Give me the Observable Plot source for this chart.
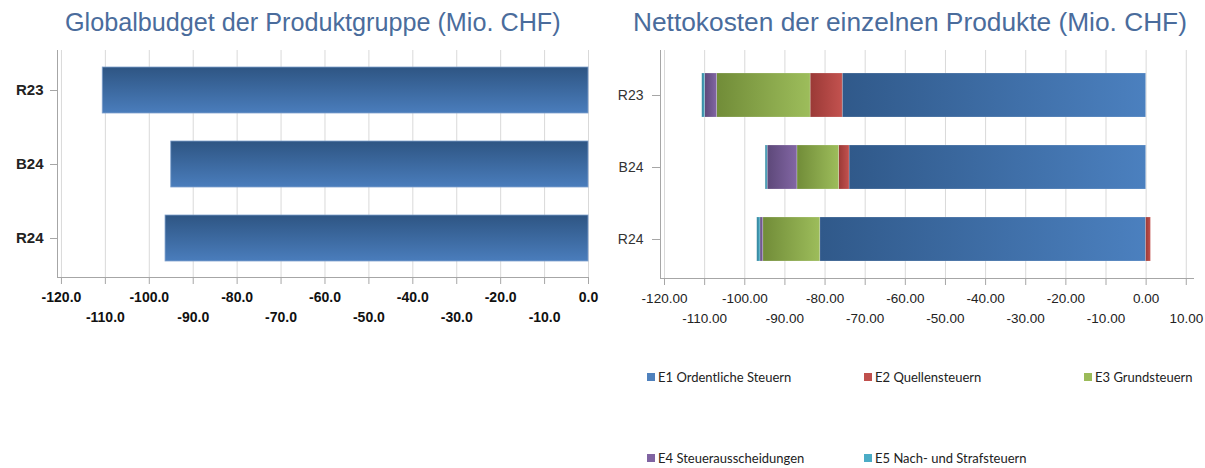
<!DOCTYPE html>
<html>
<head>
<meta charset="utf-8">
<script src="https://cdn.jsdelivr.net/npm/d3@7"></script>
<script src="https://cdn.jsdelivr.net/npm/@observablehq/plot@0.6"></script>
<style>
  body { margin: 0; background: #fff; }
  #wrap { position: relative; width: 1205px; height: 468px; background: #fff; overflow: hidden; }
  .title { position: absolute; top: 7px; line-height: 30px; font-family: "Liberation Sans", Arial, sans-serif; font-size: 25.5px; color: #4a6c9c; white-space: nowrap; }
  .chart { position: absolute; top: 40px; }
  .leg { position: absolute; font-family: Lato, "Open Sans", sans-serif; font-size: 13px; color: #222; white-space: nowrap; display: flex; align-items: center; }
  .leg span.sw { display: inline-block; width: 8px; height: 8px; margin-right: 3px; }
</style>
</head>
<body>
<svg width="0" height="0" style="position:absolute">
  <defs>
    <linearGradient id="gLeft" x1="0" y1="0" x2="0" y2="1">
      <stop offset="0" stop-color="#2e5583"/>
      <stop offset="1" stop-color="#4a7dbc"/>
    </linearGradient>
    <linearGradient id="gE1" x1="0" y1="0" x2="1" y2="0">
      <stop offset="0" stop-color="#30598a"/>
      <stop offset="1" stop-color="#4b80bf"/>
    </linearGradient>
    <linearGradient id="gE2" x1="0" y1="0" x2="1" y2="0">
      <stop offset="0" stop-color="#9a3936"/>
      <stop offset="1" stop-color="#c3524f"/>
    </linearGradient>
    <linearGradient id="gE3" x1="0" y1="0" x2="1" y2="0">
      <stop offset="0" stop-color="#718c38"/>
      <stop offset="1" stop-color="#9dbd5b"/>
    </linearGradient>
    <linearGradient id="gE4" x1="0" y1="0" x2="1" y2="0">
      <stop offset="0" stop-color="#5d4879"/>
      <stop offset="1" stop-color="#8266a4"/>
    </linearGradient>
    <linearGradient id="gE5" x1="0" y1="0" x2="1" y2="0">
      <stop offset="0" stop-color="#2e7f97"/>
      <stop offset="1" stop-color="#4bacc6"/>
    </linearGradient>
  </defs>
</svg>
<div id="wrap">
  <div class="title" style="left:65px; font-size:25.2px">Globalbudget der Produktgruppe (Mio. CHF)</div>
  <div class="title" style="left:633px; font-size:26.3px">Nettokosten der einzelnen Produkte (Mio. CHF)</div>
  <div id="left" class="chart" style="left:0px"></div>
  <div id="right" class="chart" style="left:600px"></div>
  <div id="legend"></div>
</div>
<script>
// ---- data ----
const years = ["R23", "B24", "R24"];
const globalbudget = [-110.6, -95.0, -96.3];

const seriesNames = [
  "E1 Ordentliche Steuern",
  "E2 Quellensteuern",
  "E3 Grundsteuern",
  "E4 Steuerausscheidungen",
  "E5 Nach- und Strafsteuern"
];
const e1 = [-75.6, -73.9, -81.2];
const e2 = [-8.0, -2.6, 1.2];
const e3 = [-23.3, -10.4, -14.2];
const e4 = [-3.0, -7.4, -0.7];
const e5 = [-0.7, -0.5, -0.8];
const seriesColors = ["#4f81bd", "#c0504d", "#9bbb59", "#8064a2", "#4bacc6"];
const seriesFills = ["url(#gE1)", "url(#gE2)", "url(#gE3)", "url(#gE4)", "url(#gE5)"];

const leftTicksEven = [-120, -100, -80, -60, -40, -20, 0];
const leftTicksOdd = [-110, -90, -70, -50, -30, -10];
const rightTicksEven = [-120, -100, -80, -60, -40, -20, 0];
const rightTicksOdd = [-110, -90, -70, -50, -30, -10, 10];

// ---- tables ----
const leftData = years.map((y, i) => ({year: y, value: globalbudget[i]}));
const seriesValues = [e1, e2, e3, e4, e5];
const rightData = [];
seriesNames.forEach((s, si) => years.forEach((y, i) => rightData.push({year: y, series: s, value: seriesValues[si][i]})));

// ---- left chart ----
const leftDomain = [-120.9, 0];
const left = Plot.plot({
  width: 600, height: 300,
  marginTop: 10, marginBottom: 63, marginLeft: 57, marginRight: 12,
  style: {background: "transparent", overflow: "visible"},
  x: {domain: leftDomain},
  y: {domain: years, paddingInner: 0.38, paddingOuter: 0.22},
  marks: [
    Plot.gridX({ticks: d3.range(-120, 1, 10), stroke: "#d9d9d9", strokeOpacity: 1}),
    Plot.barX(leftData, {x: "value", y: "year", fill: "url(#gLeft)", stroke: "#7fa0cc", strokeWidth: 0.8}),
    Plot.ruleX([leftDomain[0]], {stroke: "#a6a6a6"}),
    Plot.frame({anchor: "bottom", stroke: "#a6a6a6"}),
    Plot.axisX({ticks: leftTicksEven, tickFormat: d => d.toFixed(1), tickSize: 7, tickPadding: 8, stroke: "#a6a6a6", fill: "#111", fontSize: 14, fontWeight: "bold", fontFamily: "Liberation Sans Narrow, Liberation Sans, Arial", label: null}),
    Plot.axisX({ticks: leftTicksOdd, tickFormat: d => d.toFixed(1), tickSize: 7, tickPadding: 28, stroke: "#a6a6a6", fill: "#111", fontSize: 14, fontWeight: "bold", fontFamily: "Liberation Sans Narrow, Liberation Sans, Arial", label: null}),
    Plot.axisY({tickSize: 7, tickPadding: 7, stroke: "#a6a6a6", fill: "#222", fontSize: 15, fontWeight: "bold", fontFamily: "Liberation Sans, Arial", label: null})
  ]
});
document.getElementById("left").appendChild(left);

// ---- right chart ----
const rightDomain = [-121, 11.8];
const right = Plot.plot({
  width: 605, height: 300,
  marginTop: 10, marginBottom: 62, marginLeft: 60, marginRight: 12,
  style: {background: "transparent", overflow: "visible"},
  x: {domain: rightDomain},
  y: {domain: years, paddingInner: 0.395, paddingOuter: 0.265, align: 0.58},
  color: {domain: seriesNames, range: seriesFills},
  marks: [
    Plot.gridX({ticks: d3.range(-120, 11, 10), stroke: "#d9d9d9", strokeOpacity: 1}),
    Plot.barX(rightData, Plot.stackX({x: "value", y: "year", fill: "series", order: seriesNames, stroke: "#ffffff", strokeOpacity: 0.25, strokeWidth: 0.8})),
    Plot.ruleX([rightDomain[0]], {stroke: "#a6a6a6"}),
    Plot.frame({anchor: "bottom", stroke: "#a6a6a6"}),
    Plot.axisX({ticks: rightTicksEven, tickFormat: d => d.toFixed(2), tickSize: 7, tickPadding: 8, stroke: "#a6a6a6", fill: "#222", fontSize: 13.5, fontFamily: "Liberation Sans, Arial", label: null}),
    Plot.axisX({ticks: rightTicksOdd, tickFormat: d => d.toFixed(2), tickSize: 7, tickPadding: 28, stroke: "#a6a6a6", fill: "#222", fontSize: 13.5, fontFamily: "Liberation Sans, Arial", label: null}),
    Plot.axisY({tickSize: 8, tickPadding: 9, stroke: "#a6a6a6", fill: "#333", fontSize: 14, fontFamily: "Liberation Sans, Arial", label: null})
  ]
});
document.getElementById("right").appendChild(right);

// ---- legend ----
const legendPos = [[647, 378], [864, 378], [1084, 378], [647, 459], [864, 459]];
const legend = document.getElementById("legend");
seriesNames.forEach((s, i) => {
  const d = document.createElement("div");
  d.className = "leg";
  d.style.left = legendPos[i][0] + "px";
  d.style.top = (legendPos[i][1] - 9) + "px";
  d.innerHTML = `<span class="sw" style="background:${seriesColors[i]}"></span>`;
  d.appendChild(document.createTextNode(s));
  legend.appendChild(d);
});
</script>
</body>
</html>
